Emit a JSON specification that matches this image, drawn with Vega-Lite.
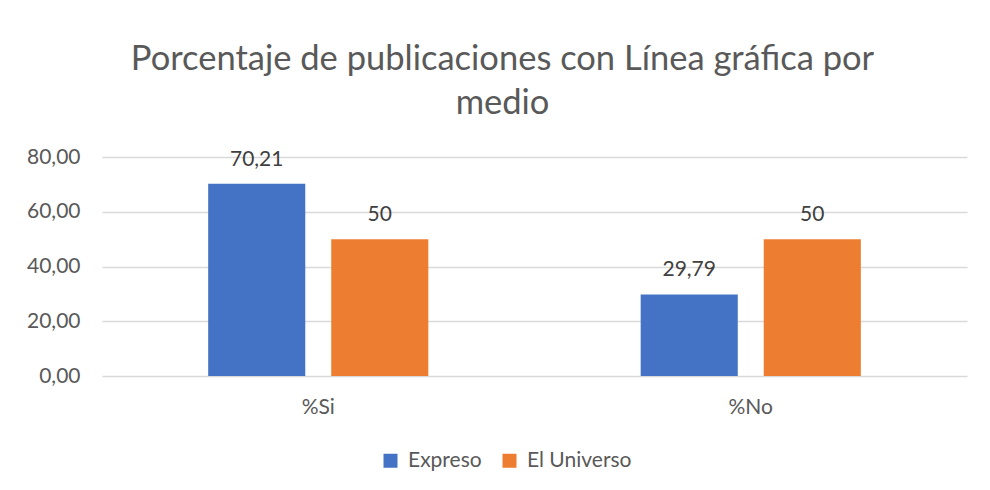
{
  "$schema": "https://vega.github.io/schema/vega-lite/v6.json",
  "width": 865,
  "height": 219,
  "autosize": {"type": "none"},
  "padding": {"left": 102, "top": 157, "right": 23, "bottom": 114},
  "background": "white",
  "title": {
    "text": ["Porcentaje de publicaciones con Línea gráfica por", "medio"],
    "font": "Lato",
    "fontSize": 34.5,
    "fontWeight": "normal",
    "color": "#595959",
    "lineHeight": 44,
    "anchor": "middle",
    "dx": -32,
    "offset": 25
  },
  "data": {
    "values": [
      {"categoria": "%Si", "medio": "Expreso", "valor": 70.21, "etiqueta": "70,21"},
      {"categoria": "%Si", "medio": "El Universo", "valor": 50, "etiqueta": "50"},
      {"categoria": "%No", "medio": "Expreso", "valor": 29.79, "etiqueta": "29,79"},
      {"categoria": "%No", "medio": "El Universo", "valor": 50, "etiqueta": "50"}
    ]
  },
  "encoding": {
    "x": {
      "field": "categoria",
      "type": "nominal",
      "sort": ["%Si", "%No"],
      "scale": {"paddingInner": 0.491, "paddingOuter": 0.2455},
      "axis": {
        "title": null,
        "labelAngle": 0,
        "labelFont": "Lato",
        "labelFontSize": 21,
        "labelColor": "#595959",
        "labelPadding": 20,
        "ticks": false,
        "domain": false
      }
    },
    "xOffset": {
      "field": "medio",
      "type": "nominal",
      "sort": ["Expreso", "El Universo"],
      "scale": {"paddingInner": 0.211, "paddingOuter": 0}
    },
    "y": {
      "field": "valor",
      "type": "quantitative",
      "scale": {"domain": [0, 80]},
      "axis": {
        "title": null,
        "values": [0, 20, 40, 60, 80],
        "labelExpr": "replace(format(datum.value, '.2f'), '.', ',')",
        "labelFont": "Lato",
        "labelFontSize": 21,
        "labelColor": "#595959",
        "labelPadding": 22,
        "ticks": false,
        "domain": false,
        "grid": true,
        "gridColor": "#d9d9d9",
        "gridWidth": 1.3
      }
    },
    "color": {
      "field": "medio",
      "type": "nominal",
      "sort": ["Expreso", "El Universo"],
      "scale": {"domain": ["Expreso", "El Universo"], "range": ["#4472C4", "#ED7D31"]},
      "legend": {
        "title": null,
        "orient": "none",
        "direction": "horizontal",
        "legendX": 278,
        "legendY": 293,
        "symbolType": "square",
        "symbolSize": 196,
        "symbolStrokeWidth": 0,
        "labelFont": "Lato",
        "labelFontSize": 21,
        "labelColor": "#595959",
        "columnPadding": 17,
        "labelOffset": 7
      }
    }
  },
  "layer": [
    {"mark": {"type": "bar"}},
    {
      "mark": {"type": "text", "baseline": "alphabetic", "dy": -18, "font": "Lato", "fontSize": 21, "color": "#404040"},
      "encoding": {"text": {"field": "etiqueta"}, "color": {"value": "#404040"}}
    }
  ],
  "config": {"view": {"stroke": null}}
}
